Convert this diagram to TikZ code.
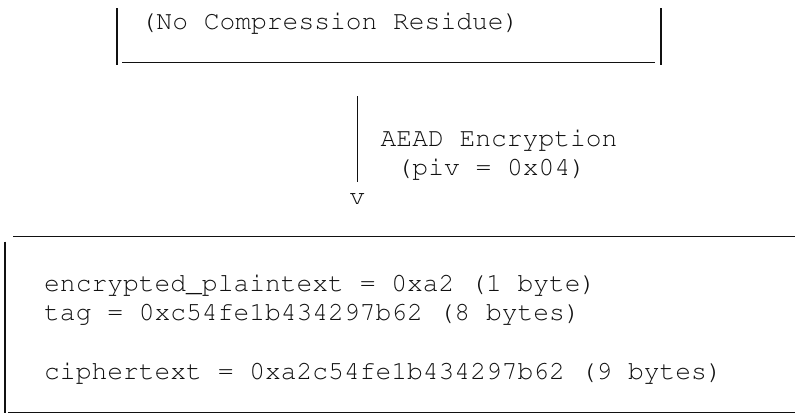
\documentclass[tikz,border=0pt]{standalone}
\usepackage[T1,TU]{fontenc}
\usepackage{xcolor}
\usepackage{tikz}
\definecolor{ink}{HTML}{111111}
\newcommand{\courtext}{\fontencoding{T1}\fontfamily{pcr}\fontsize{26.3}{29}\selectfont}
\tikzset{
  pipe/.style={draw=ink, line width=1.6pt},
  under/.style={draw=ink, line width=1.2pt},
  txt/.style={text=ink, font=\courtext, inner sep=0pt, anchor=base west}
}

\begin{document}
\begin{tikzpicture}[x=1pt, y=-1pt]
  \useasboundingbox (0,0) rectangle (795,416);

  % upper box (cut at the top)
  \coordinate (TL) at (116.7,8.3);
  \coordinate (BL) at (116.7,65);
  \coordinate (TR) at (661,8.3);
  \coordinate (BR) at (661,65);
  \coordinate (UL) at (122,62.5);
  \coordinate (UR) at (655,62.5);
  \draw[pipe] (TL)--(BL);
  \draw[pipe] (TR)--(BR);
  \draw[under] (UL)--(UR);
  \node[txt] (residue) at (140.5,29.5) {(No Compression Residue)};

  % encryption step
  \coordinate (StemTop) at (357.3,96);
  \coordinate (StemBot) at (357.3,182);
  \draw[pipe] (StemTop)--(StemBot);
  \node[txt, anchor=base] (head) at (357.3,204.4) {v};
  \node[txt] (aead) at (380.5,146.5) {AEAD Encryption};
  \node[txt] (piv) at (396.5,175.5) {(piv = 0x04)};

  % lower box (open on the right)
  \coordinate (LT) at (5,241.7);
  \coordinate (LB) at (5,413);
  \coordinate (LTa) at (13,236.7);
  \coordinate (LTb) at (795,236.7);
  \coordinate (LBa) at (8,412.7);
  \coordinate (LBb) at (795,412.7);
  \draw[under] (LTa)--(LTb);
  \draw[under] (LBa)--(LBb);
  \draw[pipe] (LT)--(LB);

  \node[txt] (encpt) at (44,291.8) {encrypted\_plaintext = 0xa2 (1 byte)};
  \node[txt] (tag) at (44,320.9) {tag = 0xc54fe1b434297b62 (8 bytes)};
  \node[txt] (cipher) at (44,379.1) {ciphertext = 0xa2c54fe1b434297b62 (9 bytes)};
\end{tikzpicture}
\end{document}
